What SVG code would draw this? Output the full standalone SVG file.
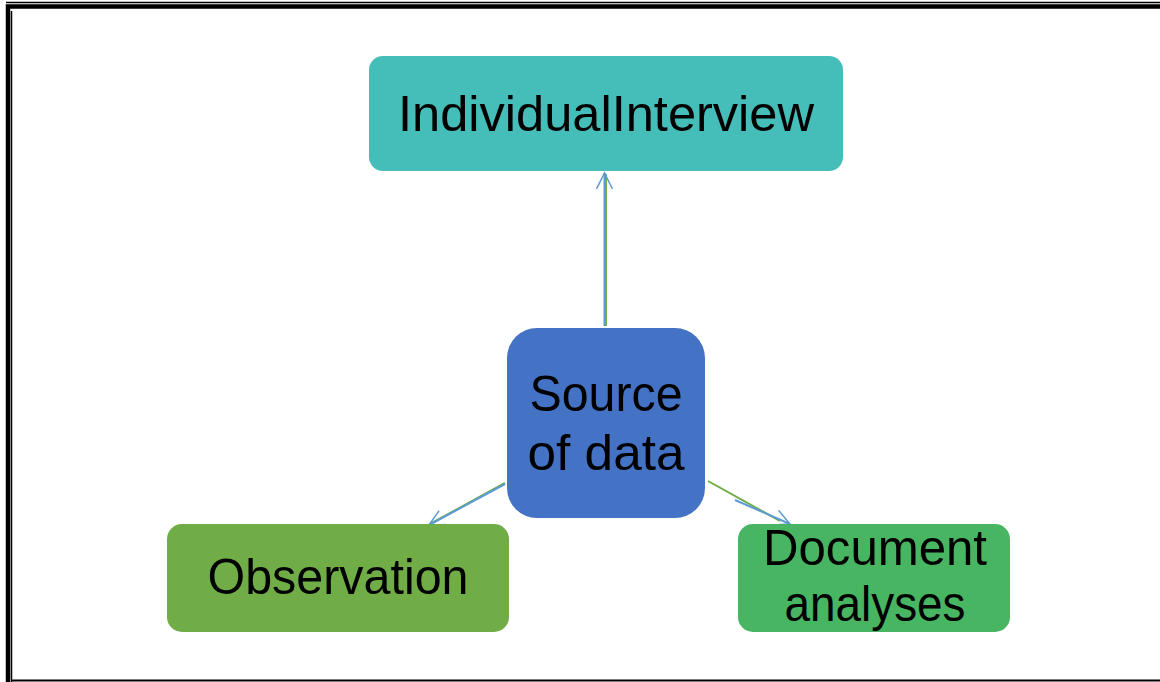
<svg xmlns="http://www.w3.org/2000/svg" width="1160" height="682" viewBox="0 0 1160 682">
<style>
.t{font-family:"Liberation Sans",Arial,sans-serif;font-size:50px;fill:#000;text-anchor:middle}
.b{stroke:#5B9BD5;stroke-width:2;fill:none}
.g{stroke:#70AD47;stroke-width:2;fill:none}
</style>
<defs>
<marker id="ah" markerWidth="20" markerHeight="20" refX="16" refY="9" orient="auto" markerUnits="userSpaceOnUse">
<path d="M0,1 L16,9 L0,17" fill="none" stroke="#5B9BD5" stroke-width="1.5"/>
</marker>
</defs>
<rect width="1160" height="682" fill="#fff"/>
<g id="border">
<path d="M8,682 V6.5 H1160" fill="none" stroke="#000" stroke-width="4.5"/>
<line x1="11.5" y1="11" x2="11.5" y2="682" stroke="#000" stroke-width="1.5"/>
<line x1="6" y1="2.5" x2="1160" y2="2.5" stroke="#000" stroke-width="1.5"/>
<line x1="11" y1="680.5" x2="1160" y2="680.5" stroke="#000" stroke-width="2"/>
</g>
<g id="connectors">
<line class="g" x1="606" y1="326" x2="606" y2="174"/>
<line class="b" x1="604.5" y1="326" x2="604.5" y2="173" marker-end="url(#ah)"/>
<line class="g" x1="505" y1="483" x2="430" y2="524"/>
<line class="b" x1="505" y1="484" x2="429" y2="525" marker-end="url(#ah)"/>
<line class="g" x1="708" y1="481" x2="780" y2="521"/>
<line class="b" x1="735" y1="500" x2="790" y2="524" marker-end="url(#ah)"/>
</g>
<g id="interview">
<rect x="369" y="56" width="474" height="115" rx="14" fill="#45BEBA"/>
<text class="t" x="606" y="131" textLength="416" lengthAdjust="spacingAndGlyphs">IndividualInterview</text>
</g>
<g id="source">
<rect x="507" y="328" width="198" height="190" rx="30" fill="#4472C4"/>
<text class="t" x="606" y="411" textLength="153" lengthAdjust="spacingAndGlyphs">Source</text>
<text class="t" x="606" y="470" textLength="157" lengthAdjust="spacingAndGlyphs">of data</text>
</g>
<g id="observation">
<rect x="167" y="524" width="342" height="108" rx="15" fill="#70AD47"/>
<text class="t" x="338" y="594" textLength="261" lengthAdjust="spacingAndGlyphs">Observation</text>
</g>
<g id="document">
<rect x="738" y="524" width="272" height="108" rx="15" fill="#47B562"/>
<text class="t" x="875" y="565" textLength="224" lengthAdjust="spacingAndGlyphs">Document</text>
<text class="t" x="875" y="621" textLength="181" lengthAdjust="spacingAndGlyphs">analyses</text>
</g>
</svg>
